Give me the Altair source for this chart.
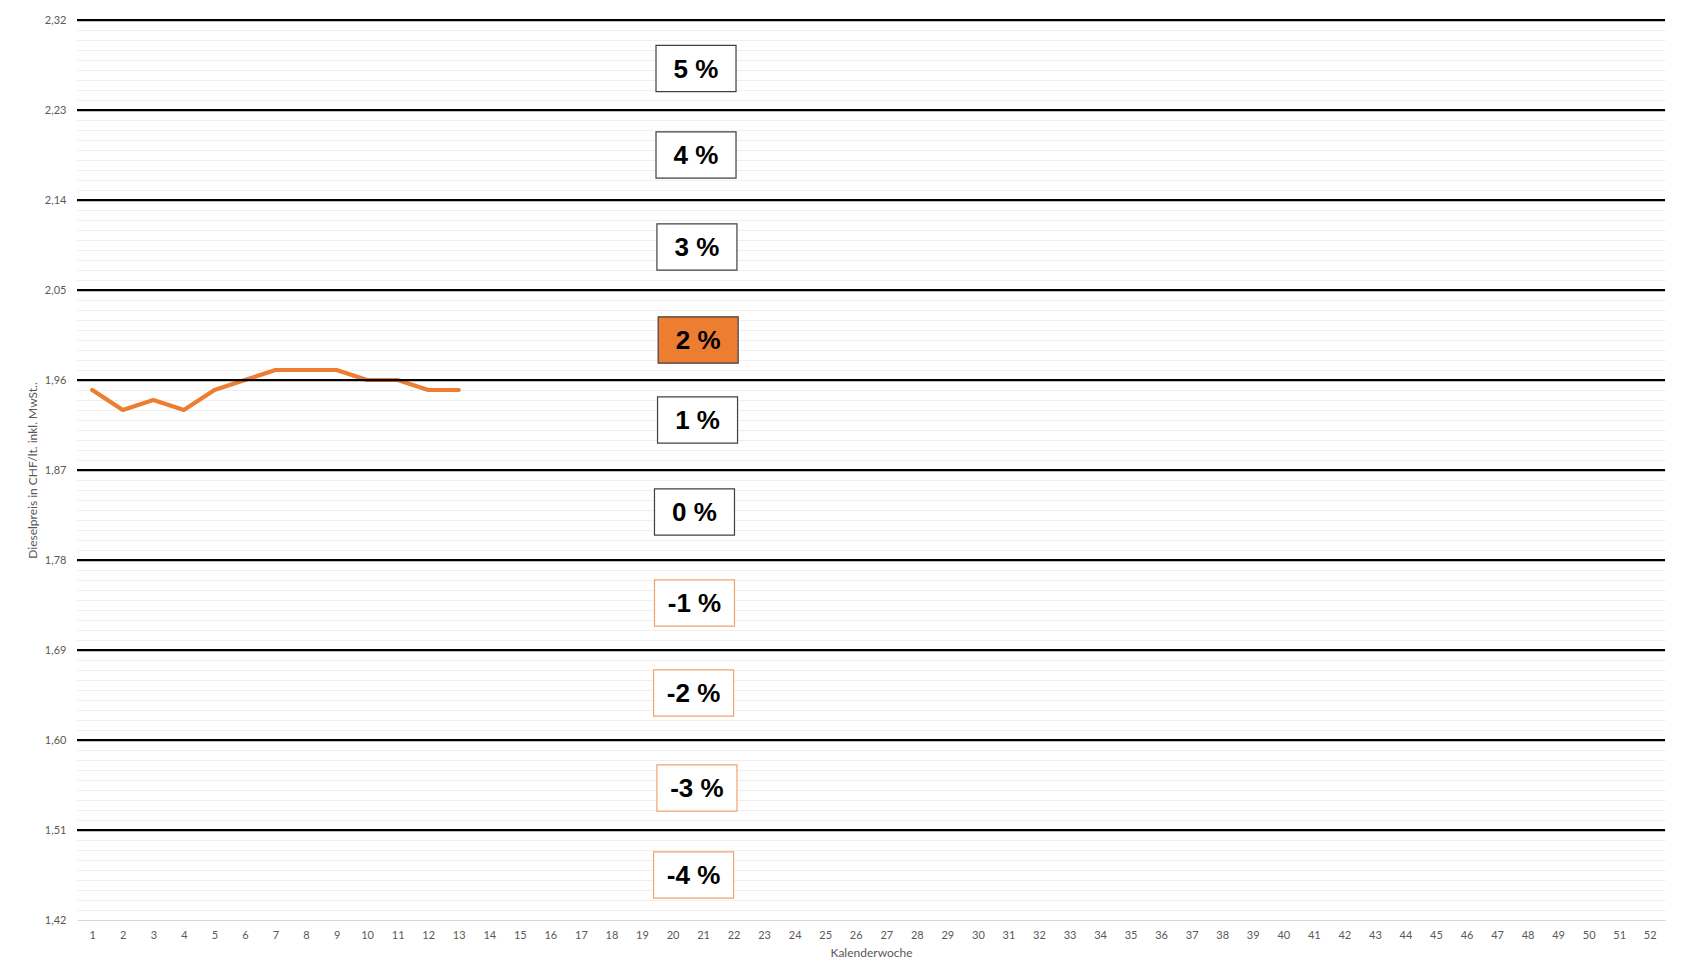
import altair as alt
import pandas as pd

# ---- data ----
weeks = list(range(1, 14))
diesel_price = [1.95, 1.93, 1.94, 1.93, 1.95, 1.96, 1.97, 1.97, 1.97, 1.96, 1.96, 1.95, 1.95]

week_ticks = list(range(1, 53))
major_levels = [2.32, 2.23, 2.14, 2.05, 1.96, 1.87, 1.78, 1.69, 1.60, 1.51]
y_min, y_max = 1.42, 2.32

box_labels = ["5 %", "4 %", "3 %", "2 %", "1 %", "0 %", "-1 %", "-2 %", "-3 %", "-4 %"]
box_week = [20.77, 20.77, 20.80, 20.84, 20.82, 20.72, 20.72, 20.69, 20.80, 20.69]
box_price = [2.2715, 2.185, 2.093, 2.000, 1.920, 1.828, 1.737, 1.647, 1.552, 1.465]
box_kind = ["pos", "pos", "pos", "current", "pos", "pos", "neg", "neg", "neg", "neg"]

# ---- styling ----
ORANGE = "#ED7D31"
AXIS_TXT = "#595959"
FONT_AX = "Lato"
FONT_BOX = "Liberation Sans"
BOX_HALF_W = 1.31   # in weeks
BOX_HALF_H = 0.0232  # in CHF

minor_grid = [round(y_min + i * 0.01, 2) for i in range(int(round((y_max - y_min) / 0.01)) + 1)]

line_df = pd.DataFrame({"week": weeks, "price": diesel_price})
major_df = pd.DataFrame({"price": major_levels})
box_df = pd.DataFrame({
    "label": box_labels,
    "week": box_week,
    "price": box_price,
    "kind": box_kind,
})
box_df["week_lo"] = box_df["week"] - BOX_HALF_W
box_df["week_hi"] = box_df["week"] + BOX_HALF_W
box_df["price_lo"] = box_df["price"] - BOX_HALF_H
box_df["price_hi"] = box_df["price"] + BOX_HALF_H

xscale = alt.Scale(domain=[0.5, 52.5], nice=False, zero=False)
yscale = alt.Scale(domain=[y_min, y_max], nice=False, zero=False)

label_expr = (
    "abs((datum.value - 1.42) / 0.09 - round((datum.value - 1.42) / 0.09)) < 0.01"
    " ? replace(format(datum.value, '.2f'), '.', ',') : ''"
)

x_axis = alt.Axis(
    values=week_ticks, format="d", grid=False, ticks=False,
    domainColor="#D9D9D9", domainWidth=1, labelPadding=9,
    labelFont=FONT_AX, labelFontSize=11, labelColor=AXIS_TXT,
    title="Kalenderwoche", titleFont=FONT_AX, titleFontSize=12,
    titleFontWeight="normal", titleColor=AXIS_TXT, titlePadding=7,
    labelOverlap=False,
)
y_axis = alt.Axis(
    values=minor_grid, grid=True, gridColor="#EFEFEF", gridWidth=1,
    ticks=False, domain=False, labelExpr=label_expr, labelOverlap=False,
    labelFont=FONT_AX, labelFontSize=11, labelColor=AXIS_TXT, labelPadding=11,
    title="Dieselpreis in CHF/lt. inkl. MwSt..", titleFont=FONT_AX,
    titleFontSize=12, titleFontWeight="normal", titleColor=AXIS_TXT,
    titlePadding=5,
)

X = alt.X("week:Q", scale=xscale, axis=x_axis)
Y = alt.Y("price:Q", scale=yscale, axis=y_axis)

line = alt.Chart(line_df).mark_line(
    color=ORANGE, strokeWidth=4.2, strokeJoin="round", strokeCap="round"
).encode(x=X, y=Y)

majors = alt.Chart(major_df).mark_rule(color="#000000", strokeWidth=2.25).encode(y=Y)

boxes = alt.Chart(box_df).mark_rect(strokeWidth=1.2).encode(
    x=alt.X("week_lo:Q", scale=xscale, axis=x_axis),
    x2="week_hi:Q",
    y=alt.Y("price_lo:Q", scale=yscale, axis=y_axis),
    y2="price_hi:Q",
    fill=alt.Fill("kind:N", scale=alt.Scale(domain=["pos", "current", "neg"],
                                            range=["#FFFFFF", ORANGE, "#FFFFFF"]), legend=None),
    stroke=alt.Stroke("kind:N", scale=alt.Scale(domain=["pos", "current", "neg"],
                                                range=["#404040", "#404040", "#F2A36E"]), legend=None),
)

texts = alt.Chart(box_df).mark_text(
    font=FONT_BOX, fontSize=26, fontWeight="bold", color="#000000",
    align="center", baseline="middle", dy=1,
).encode(x=X, y=Y, text="label:N")

chart = alt.layer(line, majors, boxes, texts).properties(
    width=1588, height=900,
    autosize=alt.AutoSizeParams(type="none"),
    padding={"left": 77, "top": 20, "right": 20, "bottom": 55},
    background="#FFFFFF",
).configure_view(stroke=None).resolve_scale(fill="independent", stroke="independent")

chart.save("out.html", embed_options={"renderer": "svg", "actions": False})
